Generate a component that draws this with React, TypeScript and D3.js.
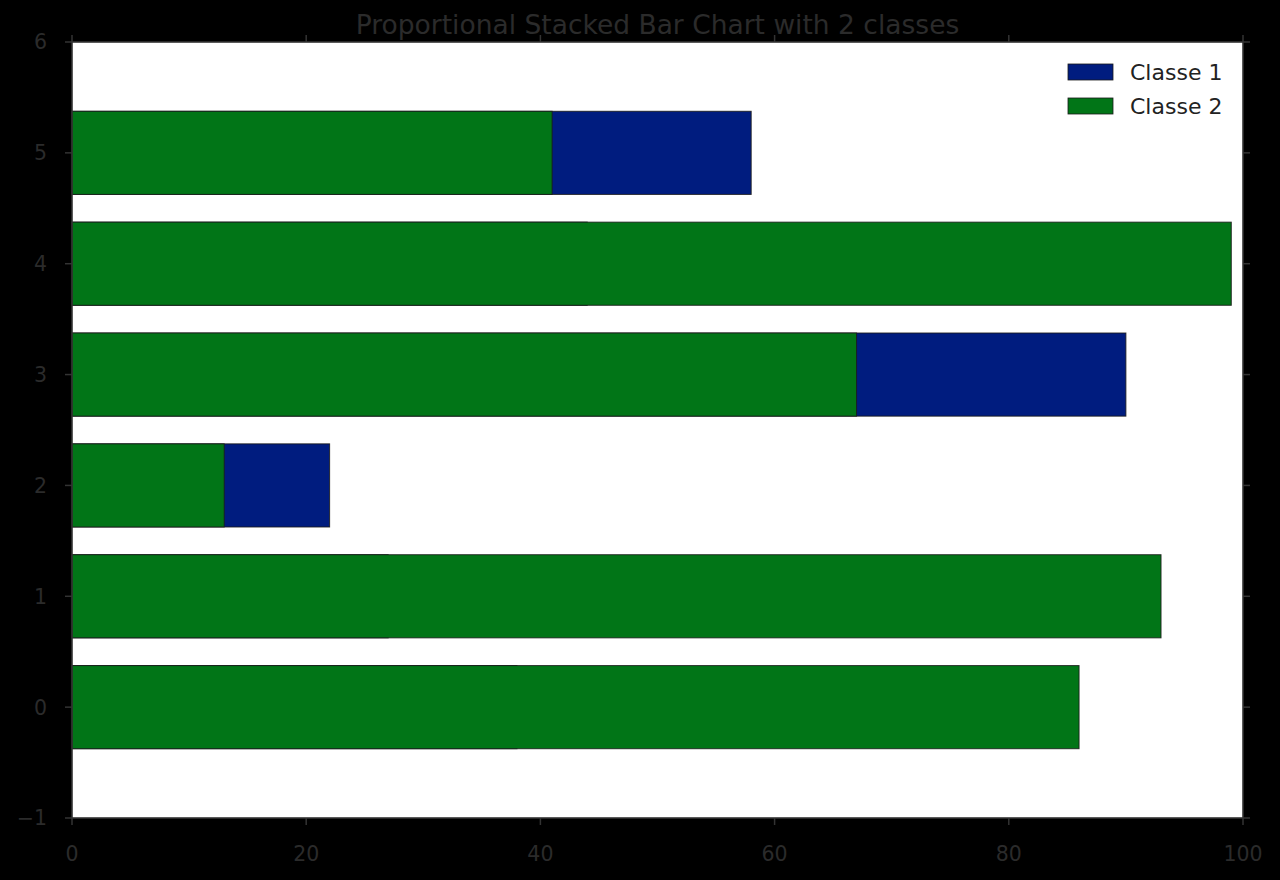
import React from "react";
import * as d3 from "d3";

const categories = [0, 1, 2, 3, 4, 5];
const classe1 = [38, 27, 22, 90, 44, 58];
const classe2 = [86, 93, 13, 67, 99, 41];
const xTicks = [0, 20, 40, 60, 80, 100];
const yTicks = [-1, 0, 1, 2, 3, 4, 5, 6];
const seriesNames = ["Classe 1", "Classe 2"];
const seriesColors = ["#001c7f", "#017517"];

const W = 1280;
const H = 880;
const left = 72;
const right = 1243;
const top = 42;
const bottom = 818;
const barH = 0.75;
const ink = "#2b2b2b";
const font = "DejaVu Sans, sans-serif";

export default function App() {
  const x = d3.scaleLinear().domain([0, 100]).range([left, right]);
  const y = d3.scaleLinear().domain([-1, 6]).range([bottom, top]);
  const fmt = (v: number) => (v < 0 ? "\u2212" + Math.abs(v) : String(v));

  const series = [classe1, classe2];

  return (
    <svg
      width={W}
      height={H}
      style={{ position: "absolute", left: 0, top: 0, background: "#000" }}
      fontFamily={font}
    >
      <rect x={0} y={0} width={W} height={H} fill="#000" />
      <rect x={left} y={top} width={right - left} height={bottom - top} fill="#fff" />

      {series.map((vals, si) => (
        <g key={si}>
          {categories.map((c, i) => (
            <rect
              key={c}
              x={x(0)}
              y={y(c + barH / 2)}
              width={x(vals[i]) - x(0)}
              height={y(c - barH / 2) - y(c + barH / 2)}
              fill={seriesColors[si]}
              stroke="#1a1a1a"
              strokeOpacity={0.85}
              strokeWidth={1}
            />
          ))}
        </g>
      ))}

      <rect
        x={left}
        y={top}
        width={right - left}
        height={bottom - top}
        fill="none"
        stroke="#333"
        strokeWidth={1.6}
      />

      {xTicks.map((t) => (
        <g key={"x" + t}>
          <line x1={x(t)} x2={x(t)} y1={bottom} y2={bottom + 7} stroke="#333" strokeWidth={1.5} />
          <line x1={x(t)} x2={x(t)} y1={top} y2={top - 7} stroke="#333" strokeWidth={1.5} />
          <text x={x(t)} y={861} textAnchor="middle" fontSize={20.5} fill={ink}>
            {fmt(t)}
          </text>
        </g>
      ))}

      {yTicks.map((t) => (
        <g key={"y" + t}>
          <line x1={left} x2={left - 7} y1={y(t)} y2={y(t)} stroke="#333" strokeWidth={1.5} />
          <line x1={right} x2={right + 7} y1={y(t)} y2={y(t)} stroke="#333" strokeWidth={1.5} />
          <text x={47} y={y(t)} dy="0.36em" textAnchor="end" fontSize={20.5} fill={ink}>
            {fmt(t)}
          </text>
        </g>
      ))}

      <text x={(left + right) / 2} y={34} textAnchor="middle" fontSize={26.5} fill={ink}>
        Proportional Stacked Bar Chart with 2 classes
      </text>

      {seriesNames.map((name, i) => (
        <g key={name} transform={`translate(1068, ${64 + i * 34})`}>
          <rect width={45} height={16} fill={seriesColors[i]} stroke="#1a1a1a" strokeWidth={0.8} />
          <text x={62} y={8} dy="0.36em" fontSize={22} fill="#222">
            {name}
          </text>
        </g>
      ))}
    </svg>
  );
}
